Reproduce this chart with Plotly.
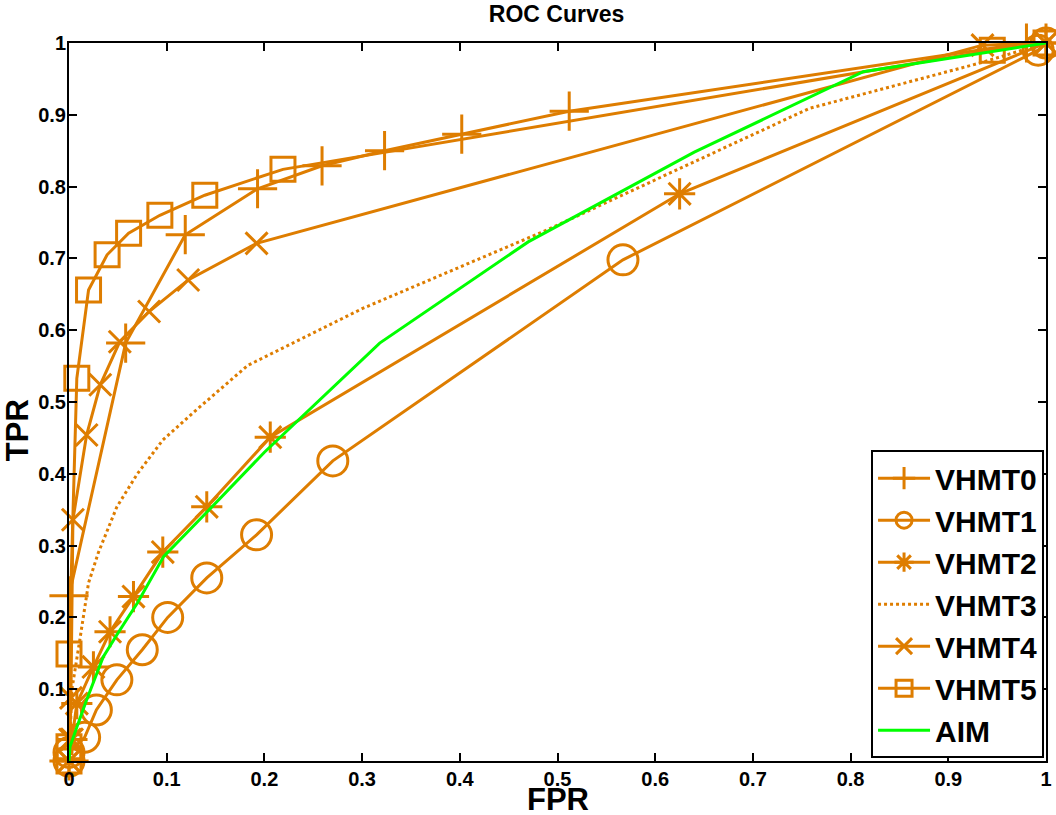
import plotly.graph_objects as go

ORANGE = '#DE7D00'
GREEN = '#00FF00'
FONT = 'Liberation Sans'

# ROC points (FPR, TPR)
vhmt0_fpr = [0, 0, 0.058, 0.119, 0.193, 0.259, 0.323, 0.402, 0.512, 0.98, 1]
vhmt0_tpr = [0, 0.23, 0.582, 0.733, 0.797, 0.829, 0.85, 0.873, 0.905, 1.0, 1]

vhmt1_fpr = [0, 0, 0.016, 0.028, 0.049, 0.075, 0.101, 0.141, 0.192, 0.27, 0.567, 0.992, 1]
vhmt1_tpr = [0, 0.012, 0.033, 0.071, 0.113, 0.155, 0.2, 0.255, 0.315, 0.418, 0.698, 0.99, 1]

vhmt2_fpr = [0, 0.003, 0.008, 0.025, 0.042, 0.066, 0.096, 0.141, 0.206, 0.625, 1]
vhmt2_tpr = [0, 0.03, 0.08, 0.131, 0.18, 0.229, 0.291, 0.354, 0.451, 0.79, 1]

vhmt3_fpr = [0, 0.003, 0.011, 0.02, 0.03, 0.049, 0.07, 0.096, 0.127, 0.183, 0.3, 0.49, 0.758, 0.932, 1]
vhmt3_tpr = [0, 0.1, 0.168, 0.248, 0.29, 0.354, 0.4, 0.447, 0.485, 0.551, 0.63, 0.74, 0.909, 0.972, 1]

vhmt4_fpr = [0, 0.001, 0.002, 0.004, 0.018, 0.032, 0.052, 0.082, 0.122, 0.192, 0.935, 1]
vhmt4_tpr = [0, 0.03, 0.088, 0.336, 0.454, 0.524, 0.584, 0.626, 0.67, 0.721, 0.997, 1]

vhmt5_fpr = [0, 0, 0, 0.008, 0.02, 0.039, 0.061, 0.093, 0.139, 0.219, 0.945, 1]
vhmt5_tpr = [0, 0.02, 0.149, 0.533, 0.656, 0.705, 0.735, 0.76, 0.788, 0.824, 0.99, 1]

aim_fpr = [0, 0.001, 0.008, 0.018, 0.035, 0.05, 0.07, 0.097, 0.14, 0.2, 0.318, 0.47, 0.64, 0.813, 1]
aim_tpr = [0, 0.02, 0.047, 0.085, 0.145, 0.178, 0.22, 0.285, 0.345, 0.43, 0.582, 0.723, 0.848, 0.96, 1]

tick_vals = [0, 0.1, 0.2, 0.3, 0.4, 0.5, 0.6, 0.7, 0.8, 0.9, 1]
x_tick_text = ['0', '0.1', '0.2', '0.3', '0.4', '0.5', '0.6', '0.7', '0.8', '0.9', '1']
y_tick_text = ['', '0.1', '0.2', '0.3', '0.4', '0.5', '0.6', '0.7', '0.8', '0.9', '1']

series = [
    ('VHMT0', vhmt0_fpr, vhmt0_tpr, 'cross-thin-open', 28, 'solid'),
    ('VHMT1', vhmt1_fpr, vhmt1_tpr, 'circle-open', 30, 'solid'),
    ('VHMT2', vhmt2_fpr, vhmt2_tpr, 'asterisk-open', 26, 'solid'),
    ('VHMT3', vhmt3_fpr, vhmt3_tpr, None, 0, 'dot'),
    ('VHMT4', vhmt4_fpr, vhmt4_tpr, 'x-thin-open', 22, 'solid'),
    ('VHMT5', vhmt5_fpr, vhmt5_tpr, 'square-open', 24, 'solid'),
]

fig = go.Figure()
for name, xs, ys, symbol, size, dash in series:
    if symbol is None:
        fig.add_trace(go.Scatter(x=xs, y=ys, name=name, mode='lines', legendgroup=name,
                                 line=dict(color=ORANGE, width=3, dash=dash), cliponaxis=False))
    else:
        fig.add_trace(go.Scatter(x=xs, y=ys, name=name, mode='lines+markers', legendgroup=name,
                                 line=dict(color=ORANGE, width=3, dash=dash),
                                 marker=dict(symbol=symbol, size=size, color=ORANGE,
                                             line=dict(color=ORANGE, width=3)),
                                 cliponaxis=False))
fig.add_trace(go.Scatter(x=aim_fpr, y=aim_tpr, name='AIM', mode='lines', legendgroup='AIM',
                         line=dict(color=GREEN, width=3), cliponaxis=False))

axis_style = dict(
    range=[0, 1], tickmode='array', tickvals=tick_vals, automargin=False,
    showgrid=False, zeroline=False, showline=True, linecolor='black', linewidth=2,
    mirror='ticks', ticks='inside', ticklen=8, tickwidth=2, tickcolor='black',
    tickfont=dict(family=FONT, size=20, color='black', weight='bold'),
)
title_font = dict(family=FONT, size=31, color='black', weight='bold')

fig.update_layout(
    width=1056, height=815,
    margin=dict(l=69, r=10, t=43, b=54),
    paper_bgcolor='white', plot_bgcolor='white',
    title=dict(text='ROC Curves', x=0.527, xanchor='center', y=0.983, yanchor='middle',
               font=dict(family=FONT, size=23, color='black', weight='bold')),
    xaxis=dict(axis_style, ticktext=x_tick_text, ticklabelstandoff=-1),
    yaxis=dict(axis_style, ticktext=y_tick_text, ticklabelstandoff=-3),
    legend=dict(x=0.998, xanchor='right', y=0.004, yanchor='bottom',
                bgcolor='white', bordercolor='black', borderwidth=2,
                font=dict(family=FONT, size=30, color='black', weight='bold'),
                traceorder='grouped', tracegroupgap=0, itemwidth=52),
    showlegend=True,
)
fig.add_annotation(text='FPR', xref='paper', yref='paper', x=0.5, y=-0.054,
                   xanchor='center', yanchor='middle', showarrow=False, font=title_font)
fig.add_annotation(text='TPR', xref='paper', yref='paper', x=-0.053, y=0.461, textangle=-90,
                   xanchor='center', yanchor='middle', showarrow=False, font=title_font)

# drop the default body margin so the figure fills the window exactly
fig.write_html('out.html', config={'displayModeBar': False},
               post_script="document.body.style.margin='0';")
